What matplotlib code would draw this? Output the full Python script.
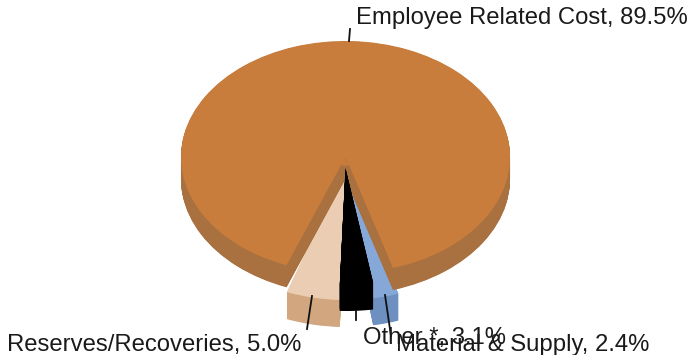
import matplotlib
matplotlib.use("Agg")
import matplotlib.pyplot as plt
import numpy as np

labels = ["Reserves/Recoveries, 5.0%", "Other *, 3.1%", "Material & Supply, 2.4%", "Employee Related Cost, 89.5%"]
values = [5.0, 3.1, 2.4, 89.5]
top_colors = ["#EBCDB4", "#000000", "#86A8D8", "#C87D3C"]
side_colors = ["#D2A77F", "#000000", "#6D90C0", "#A8713F"]

W, H = 688, 355
plt.rcParams["font.family"] = ["Liberation Sans", "DejaVu Sans"]
fig = plt.figure(figsize=(W / 100, H / 100), dpi=100)


def layer(show, cx, cy, rx, ry, depth, start, zorder, notch=0.0):
    """One pie layer whose ellipse is set by the axes limits (all sizes in pixels)."""
    ax = fig.add_axes([0, 0, 1, 1], zorder=zorder)
    ax.patch.set_alpha(0)
    steps = int(depth * 2) + 1
    for off in np.linspace(depth / ry, 0, steps):
        cols = side_colors if off > 0 else top_colors
        wedges, _ = ax.pie(values, colors=cols, startangle=start, center=(0, -off),
                           wedgeprops=dict(linewidth=0))
        for i, w in enumerate(wedges):
            w.set_visible(i in show)
    if notch:
        ax.pie(values, colors=[top_colors[3]] * 4, startangle=start, radius=notch,
               wedgeprops=dict(linewidth=0))
    ax.set_aspect("auto")
    ax.set_xlim(-cx / rx, (W - cx) / rx)
    ax.set_ylim((cy - H) / ry, cy / ry)
    ax.set_axis_off()
    return ax


layer({0, 2}, 345.5, 168, 172, 132, 27, -109.9, 1)
layer({3}, 345.5, 157, 164.5, 116, 22, -111.0, 2, notch=0.075)
layer({1}, 345.5, 168, 172, 116, 27, -109.9, 3)

ann = fig.add_axes([0, 0, 1, 1], zorder=4)
ann.patch.set_alpha(0)
ann.set_xlim(0, W)
ann.set_ylim(H, 0)
ann.set_axis_off()

leaders = [((312, 296), (307, 329)), ((356, 311), (356, 320)), ((385, 295), (391, 336)), ((350, 29), (349, 41))]
for a, b in leaders:
    ann.plot([a[0], b[0]], [a[1], b[1]], color="#101010", lw=1.3)

positions = [(7, 351.5), (363, 344), (396, 351.5), (356, 24)]
for lab, (x, y) in zip(labels, positions):
    ann.text(x, y, lab, fontsize=17.2, color="#1a1a1a", ha="left", va="baseline", clip_on=False)

fig.savefig("out.png", dpi=100)
